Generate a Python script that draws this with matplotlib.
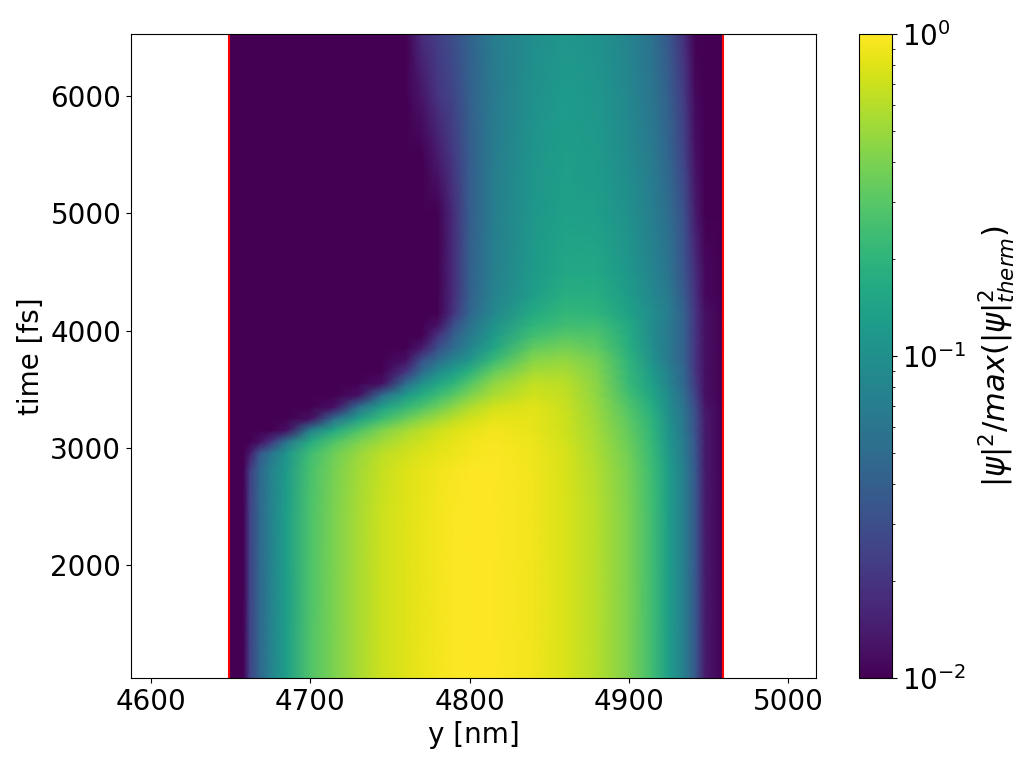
import numpy as np
import matplotlib
matplotlib.use("Agg")
import matplotlib.pyplot as plt
from matplotlib.colors import LogNorm

y_nm = [4649, 4658, 4662, 4668, 4675, 4685, 4700, 4715, 4730, 4745, 4760, 4770, 4780,
        4790, 4800, 4815, 4840, 4860, 4880, 4900, 4915, 4925, 4935, 4942, 4948, 4959]
time_fs = [1036, 2400, 2800, 2950, 3050, 3150, 3250, 3350, 3450, 3550, 3650, 3750, 3850,
           3950, 4050, 4150, 4300, 4500, 5000, 5500, 6000, 6529]

# one row per time
psi = [
    [.01, .01, .025, .045, .075, .13, .28, .40, .55, .70, .80, .86, .93, .98, 1.0, 1.0, .91, .77, .60, .40, .24, .13, .07, .035, .014, .01],
    [.01, .01, .025, .045, .075, .13, .27, .40, .55, .70, .80, .86, .93, .98, 1.0, 1.0, .91, .77, .60, .40, .24, .13, .07, .035, .014, .01],
    [.01, .01, .023, .045, .075, .12, .26, .39, .53, .67, .78, .84, .90, .95, .99, 1.0, .90, .76, .58, .39, .23, .13, .07, .035, .014, .01],
    [.01, .01, .014, .035, .06, .11, .24, .36, .49, .63, .72, .78, .83, .88, .93, .98, .89, .75, .56, .37, .22, .12, .065, .033, .014, .01],
    [.01, .01, .01, .012, .02, .06, .17, .28, .40, .52, .64, .71, .78, .85, .90, .95, .87, .73, .54, .35, .21, .115, .065, .033, .014, .01],
    [.01, .01, .01, .01, .01, .012, .07, .16, .27, .41, .54, .62, .71, .78, .85, .92, .85, .71, .52, .33, .20, .11, .06, .03, .014, .01],
    [.01, .01, .01, .01, .01, .01, .012, .05, .13, .23, .34, .43, .52, .62, .72, .83, .83, .70, .50, .31, .19, .10, .06, .03, .014, .01],
    [.01, .01, .01, .01, .01, .01, .01, .012, .05, .13, .21, .27, .35, .45, .57, .72, .81, .68, .48, .28, .17, .095, .055, .028, .013, .01],
    [.01, .01, .01, .01, .01, .01, .01, .01, .012, .05, .12, .17, .23, .30, .40, .56, .72, .65, .46, .25, .15, .09, .05, .025, .012, .01],
    [.01, .01, .01, .01, .01, .01, .01, .01, .01, .012, .05, .10, .15, .20, .29, .46, .66, .62, .44, .22, .13, .08, .045, .022, .012, .01],
    [.01, .01, .01, .01, .01, .01, .01, .01, .01, .01, .02, .05, .09, .13, .19, .33, .54, .55, .41, .21, .12, .075, .045, .02, .012, .01],
    [.01, .01, .01, .01, .01, .01, .01, .01, .01, .01, .012, .03, .05, .08, .11, .22, .43, .47, .38, .20, .10, .065, .04, .02, .012, .01],
    [.01, .01, .01, .01, .01, .01, .01, .01, .01, .01, .01, .014, .03, .05, .08, .15, .33, .38, .32, .18, .095, .065, .04, .02, .012, .01],
    [.01, .01, .01, .01, .01, .01, .01, .01, .01, .01, .01, .01, .02, .04, .065, .12, .25, .30, .28, .17, .09, .065, .04, .02, .012, .01],
    [.01, .01, .01, .01, .01, .01, .01, .01, .01, .01, .01, .01, .012, .03, .055, .10, .20, .24, .24, .16, .09, .065, .04, .02, .012, .01],
    [.01, .01, .01, .01, .01, .01, .01, .01, .01, .01, .01, .01, .01, .02, .045, .085, .165, .21, .20, .14, .095, .07, .04, .02, .012, .01],
    [.01, .01, .01, .01, .01, .01, .01, .01, .01, .01, .01, .01, .01, .018, .04, .075, .13, .18, .175, .125, .085, .065, .036, .019, .011, .01],
    [.01, .01, .01, .01, .01, .01, .01, .01, .01, .01, .01, .01, .01, .018, .04, .072, .12, .155, .155, .115, .08, .06, .033, .018, .011, .01],
    [.01, .01, .01, .01, .01, .01, .01, .01, .01, .01, .01, .01, .01, .018, .038, .07, .115, .135, .13, .10, .07, .052, .03, .014, .01, .01],
    [.01, .01, .01, .01, .01, .01, .01, .01, .01, .01, .01, .01, .014, .022, .038, .068, .11, .13, .12, .09, .065, .045, .025, .012, .01, .01],
    [.01, .01, .01, .01, .01, .01, .01, .01, .01, .01, .01, .013, .02, .026, .04, .065, .10, .122, .115, .085, .06, .04, .022, .011, .01, .01],
    [.01, .01, .01, .01, .01, .01, .01, .01, .01, .01, .01, .018, .023, .03, .042, .068, .097, .115, .105, .08, .055, .035, .018, .01, .01, .01],
]

wall_positions = [4649, 4959]
x_ticks = [4600, 4700, 4800, 4900, 5000]
t_ticks = [2000, 3000, 4000, 5000, 6000]

plt.rcParams["font.size"] = 20

fig = plt.figure(figsize=(10.33, 7.68), dpi=100)
ax = fig.add_axes([131 / 1033, 90 / 768, 685 / 1033, 644 / 768])
cax = fig.add_axes([859 / 1033, 90 / 768, 33 / 1033, 644 / 768])

mesh = ax.pcolormesh(y_nm, time_fs, np.array(psi), shading="gouraud", cmap="viridis",
                     norm=LogNorm(vmin=0.01, vmax=1.0), rasterized=True)
for wall in wall_positions:
    ax.axvline(wall, color="red", linewidth=1.5)

ax.set_xlim(4587.4, 5017.6)
ax.set_ylim(1036, 6529)
ax.set_xticks(x_ticks)
ax.set_yticks(t_ticks)
ax.set_xlabel("y [nm]", fontsize=20)
ax.set_ylabel("time [fs]", fontsize=20)

cbar = fig.colorbar(mesh, cax=cax)
cbar.set_label(r"$|\psi|^2/max(|\psi|^2_{therm})$", fontsize=22, labelpad=7)

plt.savefig("out.png", dpi=100)
